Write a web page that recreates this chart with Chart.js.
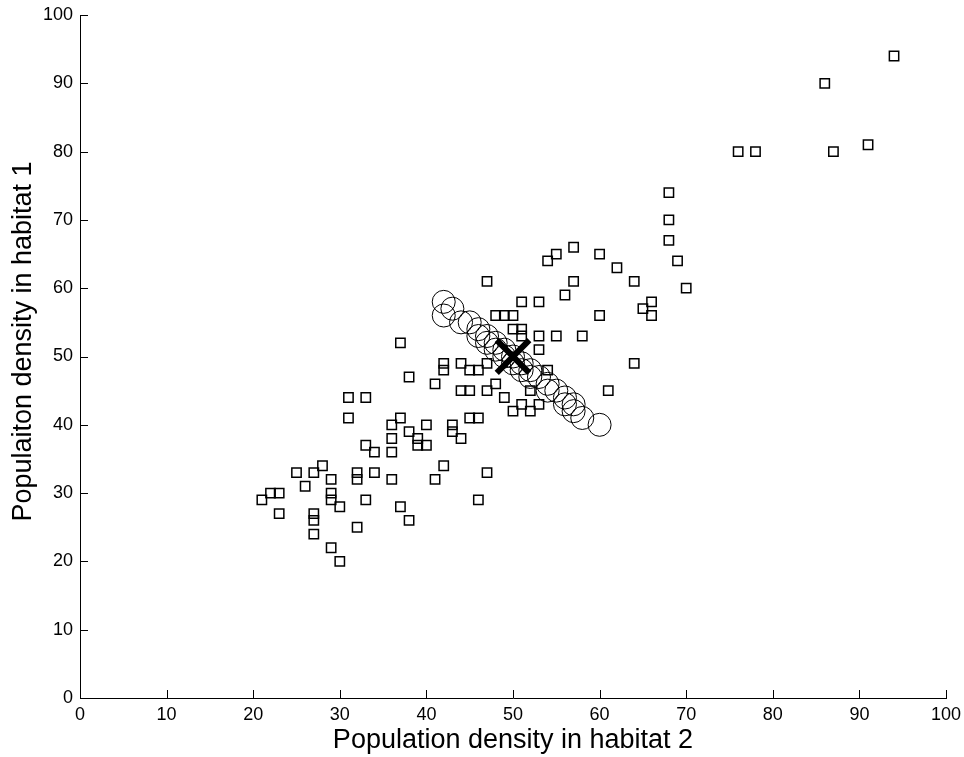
<!DOCTYPE html>
<html>
<head>
<meta charset="utf-8">
<script src="https://cdn.jsdelivr.net/npm/chart.js@4/dist/chart.umd.min.js"></script>
<style>
  html, body { margin: 0; padding: 0; background: #fff; }
  #wrap { width: 964px; height: 757px; }
</style>
</head>
<body>
<div id="wrap"><canvas id="c" width="964" height="757"></canvas></div>
<script>
'use strict';

// observed densities (habitat 2, habitat 1)
var obsX = [21, 22, 23, 23, 25, 26, 27, 28, 27, 27, 27, 29, 29, 29, 30, 29, 30,
    31, 31, 32, 32, 32, 33, 33, 33, 34, 34,
    36, 36, 36, 36, 37, 37, 37, 38, 38, 38, 39, 39, 40, 40, 41, 41, 42, 42, 42,
    43, 43, 44, 44, 44, 45, 45, 45, 46, 46, 46, 47, 47, 47, 47, 48, 49, 50, 48,
    49, 50, 51, 51, 51, 51, 50, 52, 52, 53, 53, 53, 53, 54, 54, 55, 55, 56, 57,
    57, 58, 60, 60, 61, 62, 64, 64, 65, 66, 66, 68, 68, 68, 69, 70,
    76, 78, 86, 87, 91, 94];
var obsY = [29, 30, 30, 27, 33, 31, 33, 34, 27, 26, 24, 32, 30, 29, 28, 22, 20,
    44, 41, 33, 32, 25, 44, 37, 29, 36, 33,
    40, 38, 36, 32, 52, 41, 28, 47, 39, 26, 38, 37, 40, 37, 46, 32, 49, 48, 34,
    40, 39, 49, 45, 38, 48, 45, 41, 48, 41, 29, 61, 49, 45, 33, 56, 56, 56, 46,
    44, 54, 54, 53, 58, 43, 42, 42, 45, 58, 53, 51, 43, 48, 64, 65, 53, 59, 66,
    61, 53, 65, 56, 45, 63, 61, 49, 57, 58, 56, 74, 70, 67, 64, 60,
    80, 80, 90, 80, 81, 94];

// equilibrium line points
var eqX = [42, 42, 43, 44, 45, 46, 46, 47, 47, 48, 48, 49, 49, 50, 50, 51, 51,
    52, 52, 53, 54, 54, 55, 56, 56, 57, 57, 58, 60];
var eqY = [58, 56, 57, 55, 55, 54, 53, 53, 52, 52, 51, 51, 50, 50, 49, 49, 48,
    48, 47, 47, 46, 45, 45, 44, 43, 43, 42, 41, 40];

// mean point
var meanX = [50];
var meanY = [50];

var xTicks = [0, 10, 20, 30, 40, 50, 60, 70, 80, 90, 100];
var yTicks = [0, 10, 20, 30, 40, 50, 60, 70, 80, 90, 100];

function toPoints(xs, ys) {
    return xs.map(function (x, i) { return { x: x, y: ys[i] }; });
}

// MATLAB-like inward tick marks
var inwardTicks = {
    id: 'inwardTicks',
    afterDraw: function (chart) {
        var ctx = chart.ctx, area = chart.chartArea;
        var xs = chart.scales.x, ys = chart.scales.y;
        ctx.save();
        ctx.strokeStyle = '#000';
        ctx.lineWidth = 1;
        ctx.beginPath();
        xTicks.forEach(function (v) {
            var px = Math.round(xs.getPixelForValue(v)) + 0.5;
            ctx.moveTo(px, area.bottom);
            ctx.lineTo(px, area.bottom - 8);
        });
        yTicks.forEach(function (v) {
            var py = Math.round(ys.getPixelForValue(v)) + 0.5;
            ctx.moveTo(area.left, py);
            ctx.lineTo(area.left + 8, py);
        });
        ctx.stroke();
        ctx.restore();
    }
};

function noOverhang(s) {
    s.paddingTop = 0;
    s.paddingBottom = 0;
    s.paddingLeft = 0;
    s.paddingRight = 0;
}

var tickFont = { family: '"Liberation Sans", Arial, sans-serif', size: 18 };
var titleFont = { family: '"Liberation Sans", Arial, sans-serif', size: 27 };

new Chart(document.getElementById('c'), {
    type: 'scatter',
    data: {
        datasets: [
            {
                label: 'mean',
                data: toPoints(meanX, meanY),
                pointStyle: 'crossRot',
                pointRadius: 23,
                borderWidth: 6,
                borderColor: '#000',
                order: 0
            },
            {
                label: 'equilibria',
                data: toPoints(eqX, eqY),
                pointStyle: 'circle',
                pointRadius: 11.5,
                borderWidth: 1,
                borderColor: '#000',
                backgroundColor: 'rgba(0,0,0,0)',
                order: 1
            },
            {
                label: 'observed',
                data: toPoints(obsX, obsY),
                pointStyle: 'rect',
                pointRadius: 6.6,
                borderWidth: 1.5,
                borderColor: '#000',
                backgroundColor: 'rgba(0,0,0,0)',
                order: 2
            }
        ]
    },
    options: {
        responsive: false,
        animation: false,
        devicePixelRatio: 1,
        layout: { autoPadding: false, padding: { top: 15, right: 18, left: 0, bottom: 0 } },
        plugins: {
            legend: { display: false },
            tooltip: { enabled: false }
        },
        elements: { point: { hoverRadius: 0 } },
        scales: {
            x: {
                type: 'linear',
                min: 0,
                max: 100,
                afterFit: function (s) { s.height = 59; noOverhang(s); },
                afterBuildTicks: function (s) {
                    s.ticks = xTicks.map(function (v) { return { value: v }; });
                },
                grid: { display: false, drawTicks: false },
                border: { display: true, color: '#000', width: 1 },
                ticks: { color: '#000', font: tickFont, padding: 6, maxRotation: 0 },
                title: {
                    display: true,
                    text: 'Population density in habitat 2',
                    color: '#000',
                    font: titleFont,
                    padding: { top: 0, bottom: 0 }
                }
            },
            y: {
                type: 'linear',
                min: 0,
                max: 100,
                afterFit: function (s) { s.width = 80; noOverhang(s); },
                afterBuildTicks: function (s) {
                    s.ticks = yTicks.map(function (v) { return { value: v }; });
                },
                grid: { display: false, drawTicks: false },
                border: { display: true, color: '#000', width: 1 },
                ticks: { color: '#000', font: tickFont, padding: 7 },
                title: {
                    display: true,
                    // leading spaces nudge the label up, as in the original figure
                    text: '    Populaiton density in habitat 1',
                    color: '#000',
                    font: titleFont,
                    padding: { top: 7, bottom: 0 }
                }
            }
        }
    },
    plugins: [inwardTicks]
});
</script>
</body>
</html>
